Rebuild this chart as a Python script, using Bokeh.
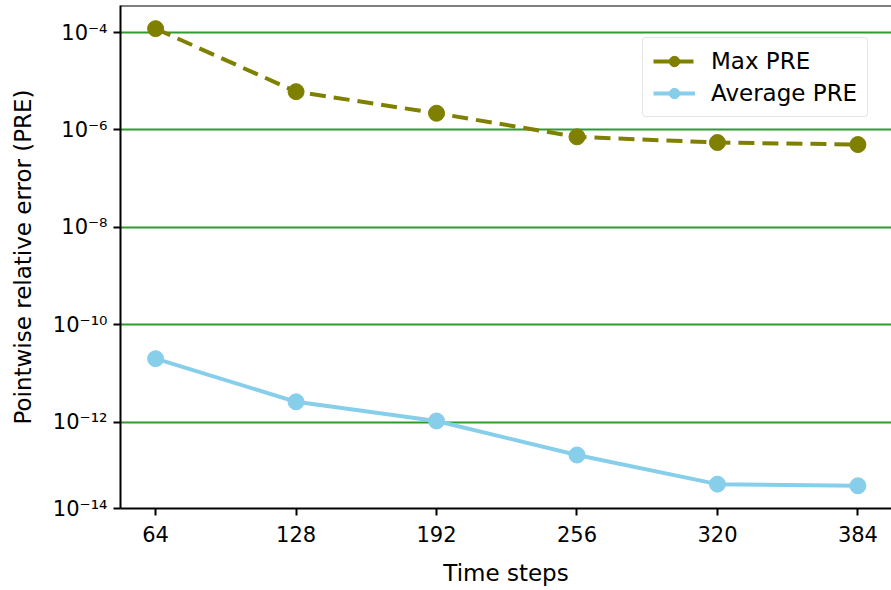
from bokeh.plotting import figure
from bokeh.models import Range1d, FixedTicker, CustomJSTickFormatter, Span, Legend
from bokeh.embed import file_html
from bokeh.resources import INLINE

# Data
time_steps = [64, 128, 192, 256, 320, 384]
max_pre = [1.2e-4, 6.1e-6, 2.2e-6, 7.2e-7, 5.5e-7, 5.0e-7]
avg_pre = [2.0e-11, 2.6e-12, 1.05e-12, 2.1e-13, 5.3e-14, 4.9e-14]
x_ticks = [64, 128, 192, 256, 320, 384]
y_grid_ticks = [1e-4, 1e-6, 1e-8, 1e-10, 1e-12]

FONT = "DejaVu Sans"
y_lo = 10 ** -13.776
y_hi = 10 ** -3.445

p = figure(width=891, height=590, y_axis_type="log", output_backend="svg",
           toolbar_location=None,
           x_range=Range1d(48, 399.3), y_range=Range1d(y_lo, y_hi),
           min_border_left=120, min_border_right=0, min_border_top=5,
           min_border_bottom=82)

p.background_fill_color = "white"
p.outline_line_color = None

# grid
p.xgrid.visible = False
p.ygrid.ticker = FixedTicker(ticks=y_grid_ticks)
p.ygrid.grid_line_color = "#2f9a2f"
p.ygrid.grid_line_width = 2

# axes
p.xaxis.ticker = FixedTicker(ticks=x_ticks)
p.yaxis.ticker = FixedTicker(ticks=y_grid_ticks + [y_lo])
p.yaxis.formatter = CustomJSTickFormatter(code="""
const sup = {'-':'\u207b','0':'\u2070','1':'\u00b9','2':'\u00b2','3':'\u00b3','4':'\u2074','5':'\u2075','6':'\u2076','7':'\u2077','8':'\u2078','9':'\u2079'};
const e = Math.round(Math.log10(tick));
return '10' + String(e).split('').map(c => sup[c]).join('');
""")
for ax in (p.xaxis[0], p.yaxis[0]):
    ax.axis_line_color = "black"
    ax.axis_line_width = 2
    ax.major_tick_line_color = "black"
    ax.major_tick_line_width = 2
    ax.major_tick_out = 7
    ax.major_tick_in = 0
    ax.minor_tick_line_color = None
    ax.major_label_text_font = FONT
    ax.major_label_text_font_size = "21px"
    ax.major_label_text_color = "black"
    ax.axis_label_text_font = FONT
    ax.axis_label_text_font_size = "23px"
    ax.axis_label_text_font_style = "normal"
    ax.axis_label_text_color = "black"

p.xaxis.axis_label = "Time steps"
p.yaxis.axis_label = "Pointwise relative error (PRE)"
p.xaxis.major_label_standoff = 10
p.xaxis.axis_label_standoff = 15
p.yaxis.major_label_standoff = 6
p.yaxis.axis_label_standoff = 14

# top spine
p.add_layout(Span(location=y_hi, dimension="width", line_color="black", line_width=2))

# series
l1 = p.line(time_steps, max_pre, line_color="#808000", line_width=4, line_dash="16 8")
s1 = p.scatter(time_steps, max_pre, size=16, fill_color="#808000", line_color="#808000")
l2 = p.line(time_steps, avg_pre, line_color="#87ceeb", line_width=4)
s2 = p.scatter(time_steps, avg_pre, size=16, fill_color="#87ceeb", line_color="#87ceeb")

legend = Legend(items=[("Max PRE", [l1, s1]), ("Average PRE", [l2, s2])],
                location=(522, 391))
legend.label_text_font = FONT
legend.label_text_font_size = "23px"
legend.label_text_color = "black"
legend.glyph_width = 42
legend.glyph_height = 26
legend.label_standoff = 16
legend.spacing = 6
legend.padding = 10
legend.margin = 0
legend.border_line_color = "#cccccc"
legend.border_line_width = 1.5
legend.border_radius = 4
legend.background_fill_alpha = 0.9
p.add_layout(legend)

open("out.html", "w").write(file_html(p, INLINE))
